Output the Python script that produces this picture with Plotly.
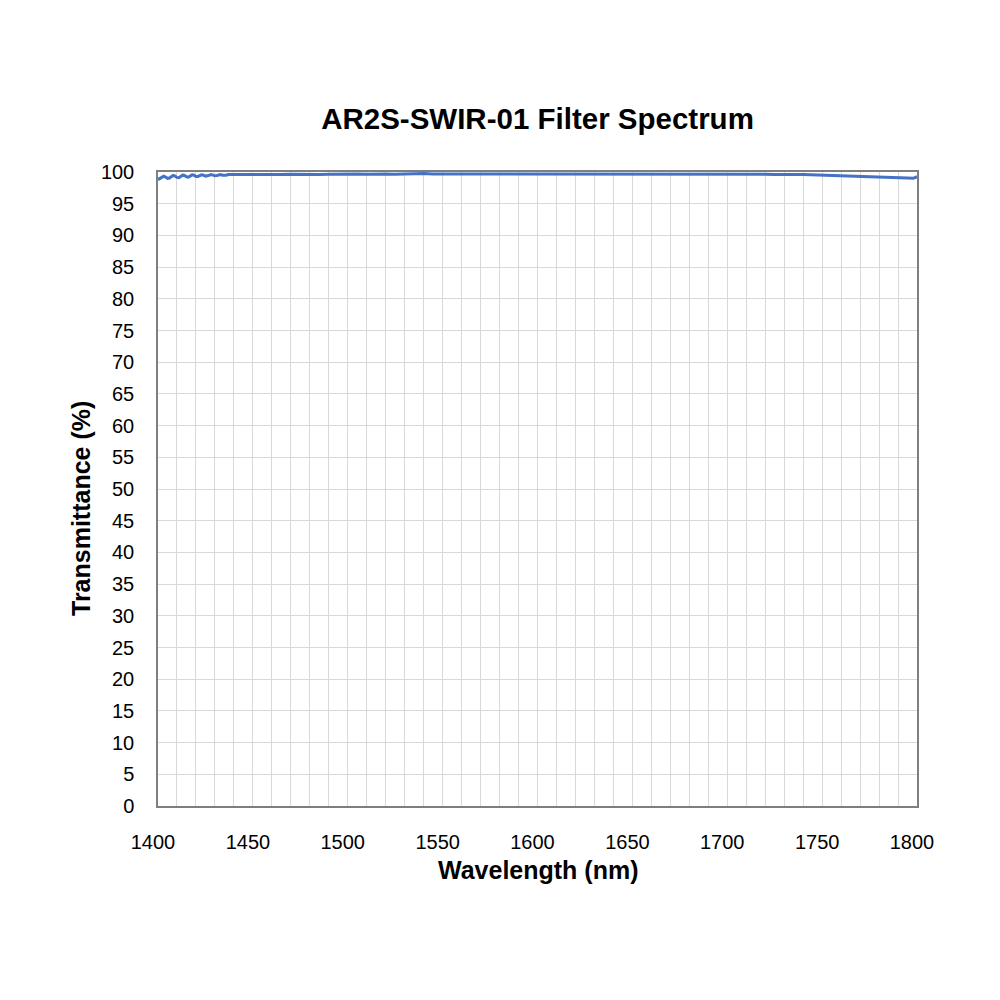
import plotly.graph_objects as go

# Wavelength samples (nm) and measured transmittance (%)
wavelength = [
    1400, 1401, 1402, 1403, 1404, 1405, 1406, 1407, 1408, 1409,
    1410, 1411, 1412, 1413, 1414, 1415, 1416, 1417, 1418, 1419,
    1420, 1421, 1422, 1423, 1424, 1425, 1426, 1427, 1428, 1429,
    1430, 1431, 1432, 1433, 1434, 1435, 1436, 1437, 1438, 1439,
    1440, 1445, 1450, 1455, 1460, 1465, 1470, 1475, 1480, 1485,
    1490, 1495, 1500, 1505, 1510, 1515, 1520, 1525, 1530, 1535,
    1540, 1545, 1550, 1555, 1560, 1565, 1570, 1575, 1580, 1585,
    1590, 1595, 1600, 1605, 1610, 1615, 1620, 1625, 1630, 1635,
    1640, 1645, 1650, 1655, 1660, 1665, 1670, 1675, 1680, 1685,
    1690, 1695, 1700, 1705, 1710, 1715, 1720, 1725, 1730, 1735,
    1740, 1745, 1750, 1755, 1760, 1765, 1770, 1775, 1780, 1785,
    1790, 1795, 1798, 1800,
]
transmittance = [
    98.8, 99.0, 99.25, 99.35, 99.2, 99.0, 99.05, 99.3, 99.45, 99.35,
    99.15, 99.1, 99.3, 99.5, 99.45, 99.25, 99.2, 99.35, 99.55, 99.5,
    99.3, 99.3, 99.45, 99.55, 99.5, 99.35, 99.4, 99.55, 99.6, 99.5,
    99.4, 99.45, 99.55, 99.6, 99.5, 99.45, 99.5, 99.6, 99.6, 99.55,
    99.5, 99.55, 99.6, 99.6, 99.55, 99.6, 99.65, 99.6, 99.65, 99.6,
    99.65, 99.7, 99.65, 99.7, 99.65, 99.7, 99.7, 99.65, 99.7, 99.7,
    99.75, 99.7, 99.7, 99.75, 99.7, 99.75, 99.75, 99.7, 99.75, 99.75,
    99.75, 99.7, 99.75, 99.75, 99.7, 99.75, 99.75, 99.7, 99.75, 99.7,
    99.75, 99.7, 99.7, 99.75, 99.7, 99.7, 99.75, 99.7, 99.7, 99.7,
    99.65, 99.7, 99.7, 99.65, 99.7, 99.65, 99.65, 99.6, 99.65, 99.6,
    99.6, 99.55, 99.55, 99.5, 99.5, 99.45, 99.4, 99.35, 99.3, 99.2,
    99.15, 99.05, 99.0, 99.25,
]

fig = go.Figure()
fig.add_trace(go.Scatter(x=wavelength, y=transmittance, mode='lines',
                         line=dict(color='#4472C4', width=3),
                         showlegend=False, cliponaxis=False))

axis_font = dict(family='Arial, Liberation Sans, sans-serif', size=20, color='#000000')

fig.update_xaxes(range=[1400, 1800], tickvals=list(range(1400, 1801, 50)),
                 showgrid=False, showline=True, linecolor='#7f7f7f', linewidth=1.5,
                 mirror=True, ticks='', tickfont=axis_font,
                 ticklabelstandoff=17, ticklabelshift=-5, zeroline=False,
                 minor=dict(dtick=10, showgrid=True, gridcolor='#d9d9d9', gridwidth=1))
fig.update_yaxes(range=[0, 100], dtick=5, showgrid=True, gridcolor='#d9d9d9', gridwidth=1,
                 showline=True, linecolor='#7f7f7f', linewidth=1.5, mirror=True,
                 ticks='', tickfont=axis_font, ticklabelstandoff=18, zeroline=False)

title_font = dict(family='Arial, Liberation Sans, sans-serif', size=25, color='#000000')
fig.add_annotation(text='<b>Wavelength (nm)</b>', xref='paper', yref='paper',
                   x=0.5, y=(806 - 870) / 634, showarrow=False, font=title_font,
                   xanchor='center', yanchor='middle')
fig.add_annotation(text='<b>Transmittance (%)</b>', xref='paper', yref='paper',
                   x=(81 - 158) / 759, y=(806 - 509) / 634, showarrow=False,
                   font=title_font, textangle=-90, xanchor='center', yanchor='middle')

fig.update_layout(
    width=1000, height=1000,
    margin=dict(l=150, r=91, t=164, b=202),
    paper_bgcolor='white', plot_bgcolor='white',
    title=dict(text='<b>AR2S-SWIR-01 Filter Spectrum</b>', xref='paper', x=0.5, xanchor='center',
               y=1 - 111 / 1000, yanchor='middle',
               font=dict(family='Arial, Liberation Sans, sans-serif', size=29.5, color='#000000')),
)

fig.write_html('out.html')
